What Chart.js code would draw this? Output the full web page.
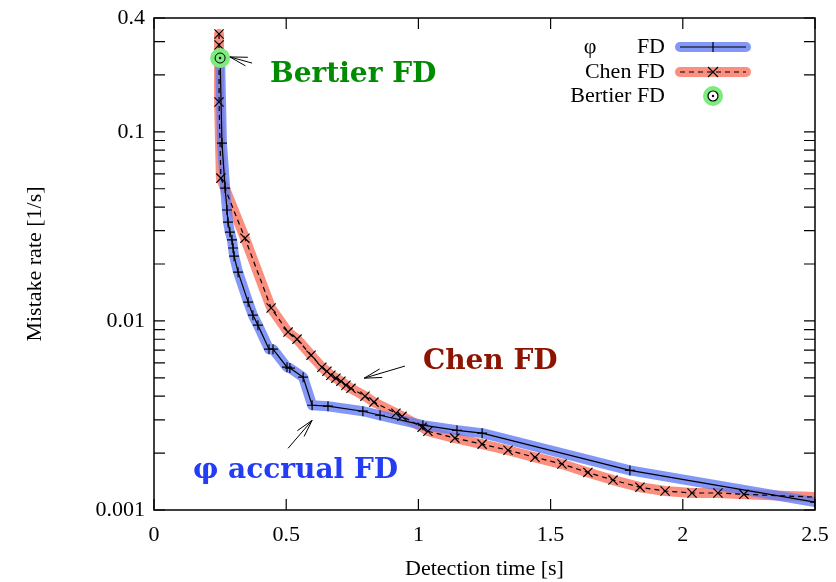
<!DOCTYPE html>
<html>
<head>
<meta charset="utf-8">
<script src="https://cdn.jsdelivr.net/npm/chart.js@4"></script>
<style>
  body { margin: 0; background: #fff; }
  canvas { display: block; }
</style>
</head>
<body>
<canvas id="grafico" width="836" height="582"></canvas>
<script>
// eixos
const xTicks = [0, 0.5, 1, 1.5, 2, 2.5];
const xTickLabels = ['0', '0.5', '1', '1.5', '2', '2.5'];
const yTicks = [0.001, 0.01, 0.1, 0.4];
const yTickLabels = ['0.001', '0.01', '0.1', '0.4'];

// phi accrual FD
const phiX = [0.250, 0.257, 0.269, 0.276, 0.280, 0.287, 0.295, 0.299, 0.303, 0.318, 0.356, 0.374, 0.393,
  0.435, 0.450, 0.503, 0.514, 0.564, 0.598, 0.658, 0.790, 0.855, 1.017, 1.146, 1.241, 1.800, 2.500];
const phiY = [0.2457, 0.0872, 0.0504, 0.0386, 0.0333, 0.0295, 0.0268, 0.0243, 0.0220, 0.0181, 0.01258, 0.01073, 0.0095,
  0.00709, 0.00709, 0.00569, 0.00563, 0.00504, 0.00358, 0.00354, 0.00333, 0.00317, 0.00281, 0.00264, 0.00255, 0.00162, 0.00110];

// Chen FD
const chenX = [0.246, 0.246, 0.246, 0.253, 0.344, 0.443, 0.507, 0.541, 0.594, 0.635, 0.654, 0.669, 0.688, 0.707,
  0.726, 0.745, 0.798, 0.832, 0.915, 0.938, 1.014, 1.036, 1.138, 1.241, 1.339, 1.441, 1.543, 1.641, 1.736, 1.838,
  1.933, 2.035, 2.133, 2.231, 2.500];
const chenY = [0.329, 0.288, 0.1438, 0.0569, 0.0274, 0.0117, 0.00873, 0.00801, 0.00659, 0.00569, 0.00542, 0.00516, 0.00498, 0.0048,
  0.00457, 0.0044, 0.0040, 0.00372, 0.00325, 0.00313, 0.00274, 0.00261, 0.0024, 0.00223, 0.00207, 0.0019, 0.00175, 0.00158, 0.00144, 0.00132,
  0.00126, 0.00123, 0.00123, 0.00121, 0.00117];

// Bertier FD
const bertierX = [0.250];
const bertierY = [0.2457];

const azul = 'rgba(100, 125, 245, 0.8)';
const vermelho = 'rgba(250, 115, 95, 0.8)';
const verde = 'rgb(125, 235, 125)';
const serif = '"Liberation Serif", "Times New Roman", serif';
const serifBold = '"DejaVu Serif", serif';

function pontos(xs, ys) {
    return xs.map((x, i) => ({ x: x, y: ys[i] }));
}

// ultimo ponto do Chen fica na borda, sem marcador
let raioChen = chenX.map((x, i) => i == chenX.length - 1 ? 0 : 6.5);

const extras = {
    id: 'extras',
    afterDatasetsDraw(chart) {
        const c = chart.ctx;
        const sx = chart.scales.x, sy = chart.scales.y;
        const px = v => sx.getPixelForValue(v);
        const py = v => sy.getPixelForValue(v);

        // setas
        const setas = [
            [0.371, 0.231, 0.287, 0.249],
            [0.949, 0.00577, 0.795, 0.00498],
            [0.507, 0.00212, 0.598, 0.00298]
        ];
        c.save();
        c.strokeStyle = '#000';
        c.lineWidth = 1;
        setas.forEach(s => {
            let x1 = px(s[0]), y1 = py(s[1]), x2 = px(s[2]), y2 = py(s[3]);
            let ang = Math.atan2(y2 - y1, x2 - x1);
            c.beginPath();
            c.moveTo(x1, y1);
            c.lineTo(x2, y2);
            c.moveTo(x2 - 18 * Math.cos(ang - 0.25), y2 - 18 * Math.sin(ang - 0.25));
            c.lineTo(x2, y2);
            c.lineTo(x2 - 18 * Math.cos(ang + 0.25), y2 - 18 * Math.sin(ang + 0.25));
            c.stroke();
        });

        // textos
        c.font = 'bold 28px ' + serifBold;
        c.textBaseline = 'middle';
        c.textAlign = 'left';
        c.fillStyle = 'rgb(0, 140, 0)';
        c.fillText('Bertier FD', px(0.439), py(0.1998));
        c.fillStyle = 'rgb(140, 20, 0)';
        c.fillText('Chen FD', px(1.017), py(0.00605));
        c.fillStyle = 'rgb(35, 60, 245)';
        c.fillText('φ accrual FD', px(0.1475), py(0.00162));
        c.restore();
    },
    afterDraw(chart) {
        const c = chart.ctx;
        const a = chart.chartArea;
        const sx = chart.scales.x, sy = chart.scales.y;
        c.save();
        c.strokeStyle = '#000';
        c.lineWidth = 1.5;
        c.strokeRect(a.left, a.top, a.right - a.left, a.bottom - a.top);

        // ticks para dentro
        c.lineWidth = 1.2;
        c.beginPath();
        xTicks.forEach(v => {
            let x = sx.getPixelForValue(v);
            c.moveTo(x, a.bottom); c.lineTo(x, a.bottom - 11);
            c.moveTo(x, a.top); c.lineTo(x, a.top + 11);
        });
        for (let d = 0.001; d < 1; d *= 10) {
            for (let k = 1; k <= 9; k++) {
                let v = d * k;
                if (v < 0.001 || v > 0.4) continue;
                let y = sy.getPixelForValue(v);
                c.moveTo(a.left, y); c.lineTo(a.left + 11, y);
                c.moveTo(a.right, y); c.lineTo(a.right - 11, y);
            }
        }
        c.stroke();

        // titulos dos eixos
        c.fillStyle = '#000';
        c.font = '22px ' + serif;
        c.textAlign = 'center';
        c.textBaseline = 'middle';
        c.fillText('Detection time [s]', (a.left + a.right) / 2, 569);
        c.translate(35, (a.top + a.bottom) / 2);
        c.rotate(-Math.PI / 2);
        c.fillText('Mistake rate [1/s]', 0, 0);
        c.restore();

        // legenda
        c.save();
        c.font = '22px ' + serif;
        c.textBaseline = 'middle';
        c.fillStyle = '#000';
        c.textAlign = 'right';
        let linhas = [47, 72, 96];
        c.fillText('FD', 665, linhas[0]);
        c.fillText('Chen FD', 665, linhas[1]);
        c.fillText('Bertier FD', 665, linhas[2]);
        c.textAlign = 'center';
        c.fillText('φ', 590, linhas[0]);

        c.lineCap = 'round';
        c.lineWidth = 10;
        c.strokeStyle = azul;
        c.beginPath(); c.moveTo(680, linhas[0]); c.lineTo(746, linhas[0]); c.stroke();
        c.strokeStyle = vermelho;
        c.beginPath(); c.moveTo(680, linhas[1]); c.lineTo(746, linhas[1]); c.stroke();

        c.lineCap = 'butt';
        c.lineWidth = 1.2;
        c.strokeStyle = '#000';
        c.beginPath();
        c.moveTo(680, linhas[0]); c.lineTo(746, linhas[0]);
        c.moveTo(713, linhas[0] - 5); c.lineTo(713, linhas[0] + 5);
        c.stroke();
        c.setLineDash([5, 4]);
        c.beginPath(); c.moveTo(680, linhas[1]); c.lineTo(746, linhas[1]); c.stroke();
        c.setLineDash([]);
        c.beginPath();
        c.moveTo(708, linhas[1] - 5); c.lineTo(718, linhas[1] + 5);
        c.moveTo(708, linhas[1] + 5); c.lineTo(718, linhas[1] - 5);
        c.stroke();

        c.fillStyle = verde;
        c.beginPath(); c.arc(713, linhas[2], 10, 0, Math.PI * 2); c.fill();
        c.fillStyle = '#fff';
        c.beginPath(); c.arc(713, linhas[2], 5, 0, Math.PI * 2); c.fill(); c.stroke();
        c.fillStyle = '#000';
        c.beginPath(); c.arc(713, linhas[2], 1.2, 0, Math.PI * 2); c.fill();
        c.restore();
    }
};

const ctx = document.getElementById('grafico').getContext('2d');
const grafico = new Chart(ctx, {
    type: 'scatter',
    data: {
        datasets: [
            {
                label: 'Bertier dot',
                data: pontos(bertierX, bertierY),
                pointRadius: 1.2,
                backgroundColor: '#000',
                borderWidth: 0,
                order: 0
            },
            {
                label: 'Bertier ring',
                data: pontos(bertierX, bertierY),
                pointRadius: 5,
                backgroundColor: 'rgba(0,0,0,0)',
                borderColor: '#000',
                borderWidth: 1,
                order: 1
            },
            {
                label: 'Bertier FD',
                data: pontos(bertierX, bertierY),
                pointRadius: 10,
                backgroundColor: verde,
                borderWidth: 0,
                order: 2
            },
            {
                label: 'phi FD',
                data: pontos(phiX, phiY),
                showLine: true,
                borderColor: '#000',
                borderWidth: 1.2,
                pointStyle: 'cross',
                pointRadius: 5,
                pointBorderColor: '#000',
                pointBorderWidth: 1.2,
                order: 3
            },
            {
                label: 'Chen FD',
                data: pontos(chenX, chenY),
                showLine: true,
                borderColor: '#000',
                borderWidth: 1.2,
                borderDash: [5, 4],
                pointStyle: 'crossRot',
                pointRadius: raioChen,
                pointBorderColor: '#000',
                pointBorderWidth: 1.2,
                order: 4
            },
            {
                label: 'phi banda',
                data: pontos(phiX, phiY),
                showLine: true,
                borderColor: azul,
                borderWidth: 10,
                borderCapStyle: 'round',
                borderJoinStyle: 'round',
                pointRadius: 0,
                order: 5
            },
            {
                label: 'Chen banda',
                data: pontos(chenX, chenY),
                showLine: true,
                borderColor: vermelho,
                borderWidth: 10,
                borderCapStyle: 'round',
                borderJoinStyle: 'round',
                pointRadius: 0,
                order: 6
            }
        ]
    },
    options: {
        responsive: false,
        animation: false,
        layout: { padding: { left: 0, top: 18, right: 21, bottom: 0 } },
        plugins: {
            legend: { display: false },
            tooltip: { enabled: false }
        },
        scales: {
            x: {
                type: 'linear',
                min: 0,
                max: 2.5,
                afterBuildTicks: s => { s.ticks = xTicks.map(v => ({ value: v })); },
                afterFit: s => { s.height = 72; s.paddingLeft = 0; s.paddingRight = 0; },
                grid: { display: false, drawTicks: false },
                border: { display: false },
                ticks: {
                    padding: 12,
                    color: '#000',
                    font: { family: serif, size: 22 },
                    callback: (v, i) => xTickLabels[i]
                }
            },
            y: {
                type: 'logarithmic',
                min: 0.001,
                max: 0.4,
                afterBuildTicks: s => { s.ticks = yTicks.map(v => ({ value: v })); },
                afterFit: s => { s.width = 154; s.paddingTop = 0; s.paddingBottom = 0; },
                grid: { display: false, drawTicks: false },
                border: { display: false },
                ticks: {
                    padding: 9,
                    color: '#000',
                    font: { family: serif, size: 22 },
                    callback: (v, i) => yTickLabels[i]
                }
            }
        }
    },
    plugins: [extras]
});
</script>
</body>
</html>
